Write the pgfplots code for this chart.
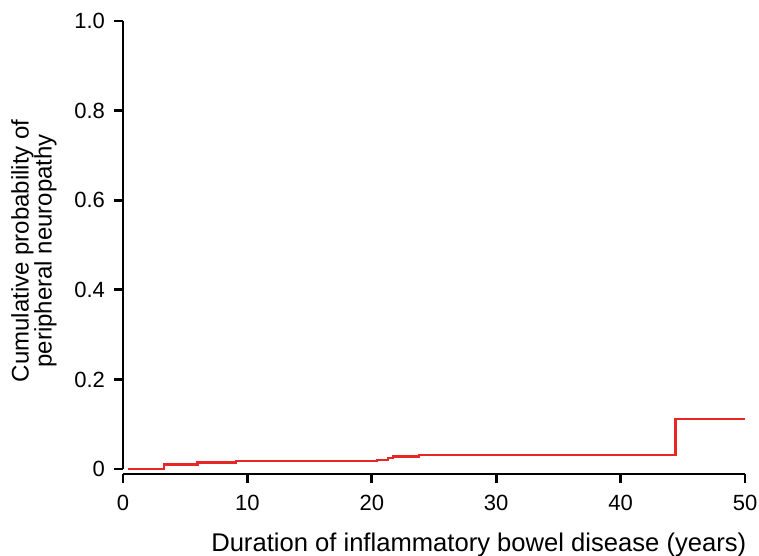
\documentclass[border=0pt]{standalone}
\usepackage{fontspec}
\setmainfont{Liberation Sans}
\usepackage{pgfplots}
\pgfplotsset{compat=1.18}
\definecolor{kmred}{RGB}{232,38,38}

\begin{document}
\begin{tikzpicture}
\begin{axis}[
  scale only axis,
  width=311pt, height=224pt,
  xmin=0, xmax=50, ymin=0, ymax=1,
  axis lines=left,
  axis line style={-, line width=1.35pt},
  axis x line shift=2.5pt,
  xtick={0,10,20,30,40,50},
  ytick={0,0.2,0.4,0.6,0.8,1.0},
  yticklabels={0,0.2,0.4,0.6,0.8,1.0},
  tick align=outside,
  major tick length=4.5pt,
  tick style={line width=1.35pt, black},
  tick label style={font=\fontsize{11}{12}\selectfont},
  xticklabel style={yshift=-2.5pt},
  yticklabel style={xshift=-1pt},
  /pgf/number format/assume math mode=true,
  xlabel={Duration of inflammatory bowel disease (years)},
  ylabel={Cumulative probability of\\peripheral neuropathy},
  ylabel style={at={(axis description cs:-0.143,0.487)}, anchor=center,
    align=center, font=\fontsize{12}{11.5}\selectfont},
  xlabel style={at={(axis description cs:0.572,-0.185)}, anchor=base,
    font=\fontsize{12.8}{13}\selectfont},
  clip=false,
]
\addplot[const plot, kmred, line width=1.25pt] coordinates {
  (0.4,0)(3.3,0.0096)(6.0,0.015)(9.1,0.018)(20.4,0.020)(21.3,0.0245)
  (21.7,0.0275)(23.8,0.031)(44.4,0.112)(50,0.112)};
\coordinate (bl) at (rel axis cs:-0.1977,-0.192);
\coordinate (tr) at (rel axis cs:1.0225,1.0469);
\end{axis}
\pgfresetboundingbox
\useasboundingbox (bl) rectangle (tr);
\end{tikzpicture}
\end{document}
